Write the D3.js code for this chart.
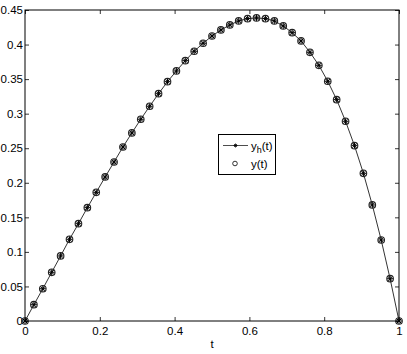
<!DOCTYPE html>
<html>
<head>
<meta charset="utf-8">
<script src="https://cdn.jsdelivr.net/npm/d3@7"></script>
<style>
  body { margin: 0; background: #fff; }
  svg { display: block; font-family: "Liberation Sans", Arial, sans-serif; }
</style>
</head>
<body>
<div id="chart"></div>
<script>
// time grid (h = 1/42) and the two solutions
const T = [0, 0.0238, 0.0476, 0.0714, 0.0952, 0.1190, 0.1429, 0.1667, 0.1905, 0.2143,
    0.2381, 0.2619, 0.2857, 0.3095, 0.3333, 0.3571, 0.3810, 0.4048, 0.4286, 0.4524,
    0.4762, 0.5000, 0.5238, 0.5476, 0.5714, 0.5952, 0.6190, 0.6429, 0.6667, 0.6905,
    0.7143, 0.7381, 0.7619, 0.7857, 0.8095, 0.8333, 0.8571, 0.8810, 0.9048, 0.9286,
    0.9524, 0.9762, 1]

const Y_H = [0, 0.0236, 0.0467, 0.0705, 0.0941, 0.1182, 0.1408, 0.1640, 0.1862, 0.2084,
    0.2301, 0.2518, 0.2721, 0.2919, 0.3107, 0.3289, 0.3463, 0.3618, 0.3767, 0.3903,
    0.4019, 0.4124, 0.4211, 0.4284, 0.4342, 0.4375, 0.4385, 0.4375, 0.4342, 0.4269,
    0.4172, 0.4052, 0.3888, 0.3700, 0.3469, 0.3203, 0.2890, 0.2537, 0.2137, 0.1679,
    0.1172, 0.0612, 0]

const Y_EXACT = Y_H.slice()   // the circles sit on the asterisks

const X_TICKS = [0, 0.2, 0.4, 0.6, 0.8, 1]
const Y_TICKS = [0, 0.05, 0.1, 0.15, 0.2, 0.25, 0.3, 0.35, 0.4, 0.45]

const W = 407, H = 354
const mLeft = 25, mRight = 399, mTop = 10, mBottom = 321

const svg = d3.select('#chart').append('svg')
    .attr('width', W)
    .attr('height', H)

const x = d3.scaleLinear().domain([0, 1]).range([mLeft, mRight])
const y = d3.scaleLinear().domain([0, 0.45]).range([mBottom, mTop])

const tickLen = 4
const fmt = d => String(d)

// axes: ticks point inwards, labels like matlab
const gx = svg.append('g')
    .attr('transform', `translate(0,${mBottom})`)
    .call(d3.axisBottom(x).tickValues(X_TICKS).tickFormat(fmt).tickSize(-tickLen).tickPadding(6))
const gxTop = svg.append('g')
    .attr('transform', `translate(0,${mTop})`)
    .call(d3.axisTop(x).tickValues(X_TICKS).tickFormat('').tickSize(-tickLen))
const gy = svg.append('g')
    .attr('transform', `translate(${mLeft},0)`)
    .call(d3.axisLeft(y).tickValues(Y_TICKS).tickFormat(fmt).tickSize(-tickLen).tickPadding(2))
const gyRight = svg.append('g')
    .attr('transform', `translate(${mRight},0)`)
    .call(d3.axisRight(y).tickValues(Y_TICKS).tickFormat('').tickSize(-tickLen))

for (const g of [gx, gxTop, gy, gyRight]) {
    g.select('.domain').remove()
    g.selectAll('line').attr('stroke', '#000').attr('stroke-width', 0.8)
    g.selectAll('text')
        .attr('fill', '#000')
        .style('font-family', '"Liberation Sans", Arial, sans-serif')
        .style('font-size', '11.5px')
}

svg.append('rect')
    .attr('x', mLeft)
    .attr('y', mTop)
    .attr('width', mRight - mLeft)
    .attr('height', mBottom - mTop)
    .attr('fill', 'none')
    .attr('stroke', '#000')
    .attr('stroke-width', 1)

svg.append('text')
    .attr('x', x(0.5))
    .attr('y', 348)
    .attr('text-anchor', 'middle')
    .style('font-size', '11.5px')
    .text('t')

// y_h(t): line with asterisks
const line = d3.line()
    .x((d, i) => x(T[i]))
    .y(d => y(d))

svg.append('path')
    .datum(Y_H)
    .attr('d', line)
    .attr('fill', 'none')
    .attr('stroke', '#000')
    .attr('stroke-width', 0.8)

function asterisk(sel, r, w) {
    const p = d3.path()
    const a = r * 0.7071
    p.moveTo(-r, 0); p.lineTo(r, 0)
    p.moveTo(0, -r); p.lineTo(0, r)
    p.moveTo(-a, -a); p.lineTo(a, a)
    p.moveTo(-a, a); p.lineTo(a, -a)
    sel.append('path')
        .attr('d', p.toString())
        .attr('stroke', '#000')
        .attr('stroke-width', w)
        .attr('fill', 'none')
}

svg.append('g').selectAll('g')
    .data(Y_H)
    .join('g')
    .attr('transform', (d, i) => `translate(${x(T[i])},${y(d)})`)
    .call(asterisk, 3, 1)

// y(t): circles
svg.append('g').selectAll('circle')
    .data(Y_EXACT)
    .join('circle')
    .attr('cx', (d, i) => x(T[i]))
    .attr('cy', d => y(d))
    .attr('r', 3.3)
    .attr('fill', 'none')
    .attr('stroke', '#222')
    .attr('stroke-width', 1.1)

// legend
const lg = svg.append('g')
lg.append('rect')
    .attr('x', 218.5).attr('y', 134.5)
    .attr('width', 57).attr('height', 40)
    .attr('fill', '#fff').attr('stroke', '#000').attr('stroke-width', 1)
lg.append('line')
    .attr('x1', 223).attr('x2', 248)
    .attr('y1', 145.5).attr('y2', 145.5)
    .attr('stroke', '#000').attr('stroke-width', 0.7)
lg.append('g')
    .attr('transform', 'translate(235.5,145.5)')
    .call(asterisk, 2, 0.8)
lg.append('circle')
    .attr('cx', 235).attr('cy', 163.5).attr('r', 2.3)
    .attr('fill', 'none').attr('stroke', '#000').attr('stroke-width', 0.8)

const t1 = lg.append('text')
    .attr('x', 251).attr('y', 149.5)
    .style('font-size', '11.5px')
t1.append('tspan').text('y')
t1.append('tspan').attr('dy', 3).style('font-size', '9px').text('h')
t1.append('tspan').attr('dy', -3).text('(t)')

lg.append('text')
    .attr('x', 251).attr('y', 167.5)
    .style('font-size', '11.5px')
    .text('y(t)')
</script>
</body>
</html>
